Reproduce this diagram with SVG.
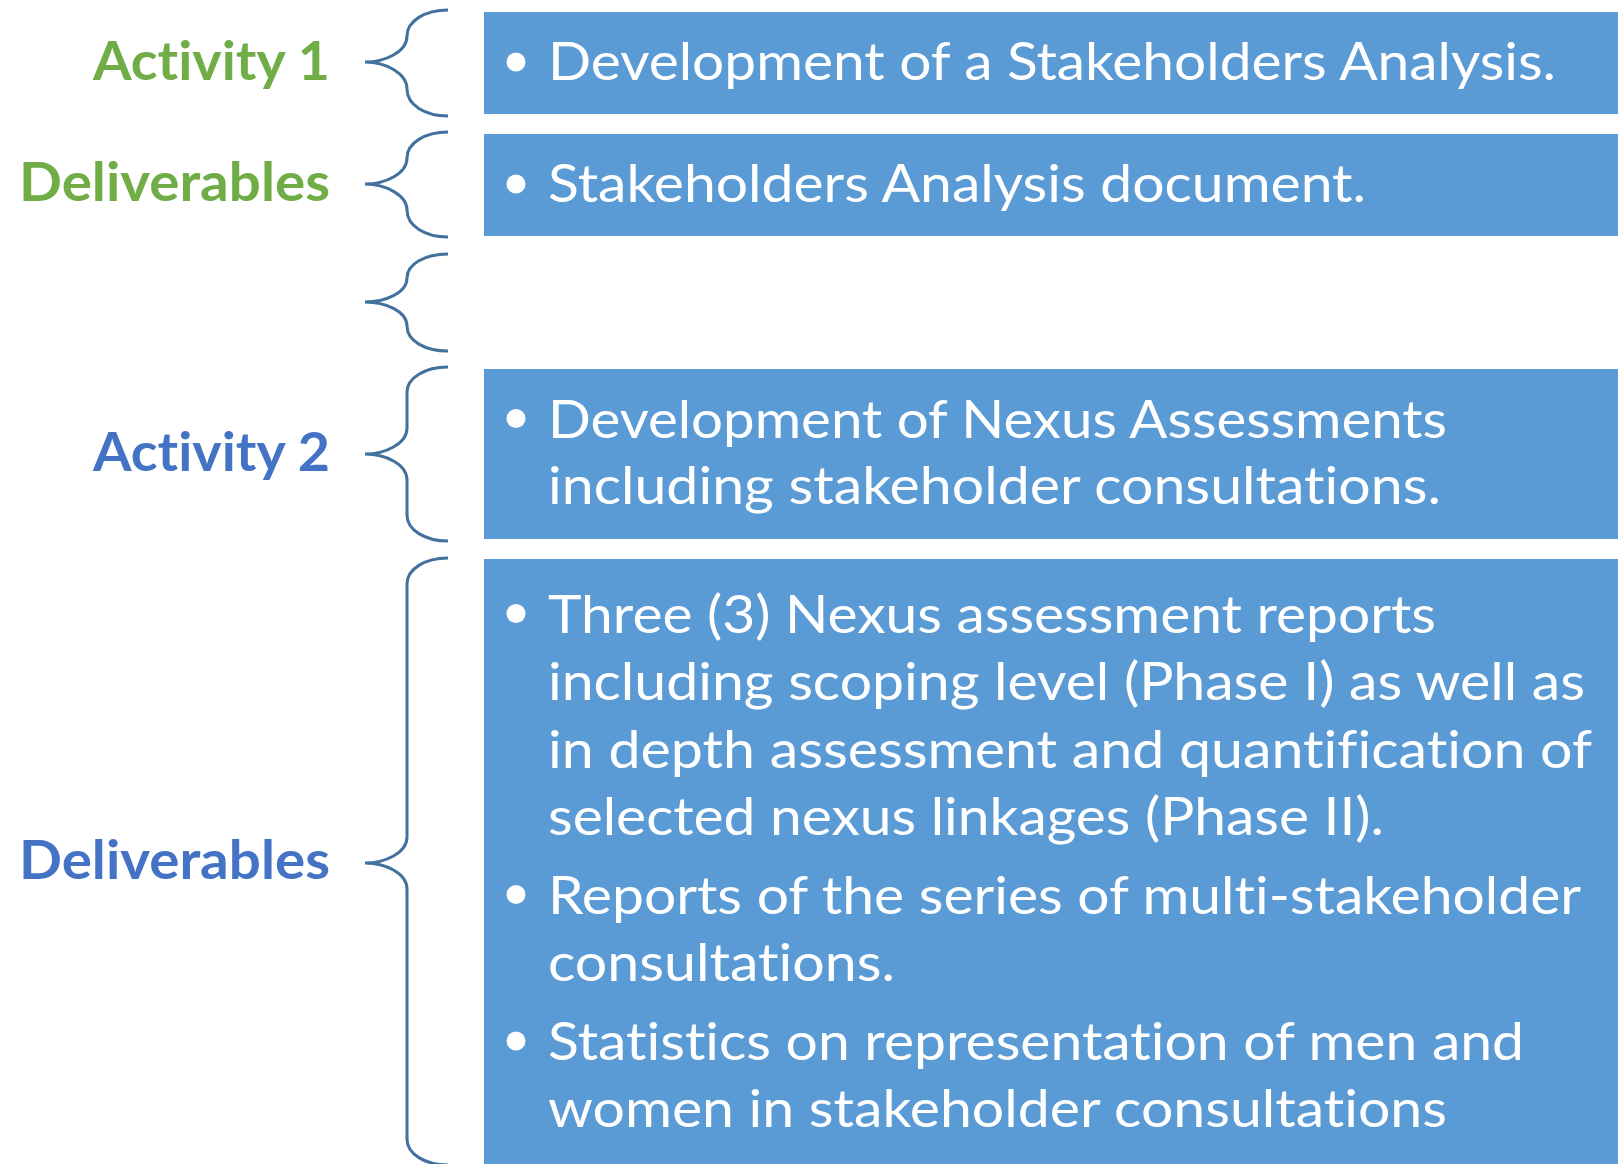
<svg xmlns="http://www.w3.org/2000/svg" width="1618" height="1164" viewBox="0 0 1618 1164">
<style>
.box{fill:#5B9BD5}
.bt{font-family:Lato,"Open Sans","Liberation Sans",sans-serif;font-size:53px;fill:#FFFFFF;font-variant-ligatures:none;font-feature-settings:"liga" 0,"clig" 0}
.dot{fill:#FFFFFF}
.lbl{font-family:Lato,"Open Sans","Liberation Sans",sans-serif;font-size:54px;font-weight:bold;text-anchor:end;font-variant-ligatures:none}
.g{fill:#70AD47}
.b{fill:#4472C4}
.brace{fill:none;stroke:#41719C;stroke-width:3}
</style>
<rect width="1618" height="1164" fill="#FFFFFF"/>
<g id="connectors">
<path id="brace1" class="brace" d="M448,10 C425,10 407,21 407,36 C407,52 385,62 365,62 C385,62 407,73 407,89 C407,105 425,116 448,116"/>
<path id="brace2" class="brace" d="M448,132 C425,132 407,143 407,158 C407,174 385,184 365,184 C385,184 407,195 407,210 C407,226 425,237 448,237"/>
<path id="brace3" class="brace" d="M448,254 C425,254 407,264 407,278 C407,293 385,302 365,302 C385,302 407,311 407,326 C407,341 425,351 448,351"/>
<path id="brace4" class="brace" d="M448,367 C425,367 407,378 407,392 L407,428 C407,444 385,454 365,454 C385,454 407,464 407,480 L407,515 C407,530 425,541 448,541"/>
<path id="brace5" class="brace" d="M448,558 C425,558 407,569 407,584 L407,837 C407,853 385,863 365,863 C385,863 407,873 407,889 L407,1139 C407,1154 425,1165 448,1165"/>
</g>
<g id="label-activity1"><text class="lbl g" x="330" y="80" textLength="237" lengthAdjust="spacingAndGlyphs">Activity 1</text></g>
<g id="label-deliverables1"><text class="lbl g" x="330" y="201" textLength="311" lengthAdjust="spacingAndGlyphs">Deliverables</text></g>
<g id="label-activity2"><text class="lbl b" x="330" y="471" textLength="237" lengthAdjust="spacingAndGlyphs">Activity 2</text></g>
<g id="label-deliverables2"><text class="lbl b" x="330" y="879" textLength="311" lengthAdjust="spacingAndGlyphs">Deliverables</text></g>
<g id="box1">
<rect class="box" x="484" y="12" width="1134" height="102"/>
<circle class="dot" cx="516" cy="62" r="9.5"/>
<text class="bt" x="548" y="80" textLength="1008" lengthAdjust="spacingAndGlyphs">Development of a Stakeholders Analysis.</text>
</g>
<g id="box2">
<rect class="box" x="484" y="134" width="1134" height="102"/>
<circle class="dot" cx="516" cy="184" r="9.5"/>
<text class="bt" x="548" y="201.5" textLength="818" lengthAdjust="spacingAndGlyphs">Stakeholders Analysis document.</text>
</g>
<g id="box3">
<rect class="box" x="484" y="369" width="1134" height="170"/>
<circle class="dot" cx="516" cy="418.5" r="9.5"/>
<text class="bt" x="548" y="437.5" textLength="899" lengthAdjust="spacingAndGlyphs">Development of Nexus Assessments</text>
<text class="bt" x="548" y="504" textLength="893" lengthAdjust="spacingAndGlyphs">including stakeholder consultations.</text>
</g>
<g id="box4">
<rect class="box" x="484" y="559" width="1134" height="605"/>
<circle class="dot" cx="516" cy="613.5" r="9.5"/>
<text class="bt" x="548" y="632.5" textLength="888" lengthAdjust="spacingAndGlyphs">Three (3) Nexus assessment reports</text>
<text class="bt" x="548" y="700" textLength="1037" lengthAdjust="spacingAndGlyphs">including scoping level (Phase I) as well as</text>
<text class="bt" x="548" y="767.5" textLength="1044" lengthAdjust="spacingAndGlyphs">in depth assessment and quantification of</text>
<text class="bt" x="548" y="835" textLength="836" lengthAdjust="spacingAndGlyphs">selected nexus linkages (Phase II).</text>
<circle class="dot" cx="516" cy="894.5" r="9.5"/>
<text class="bt" x="548" y="913.5" textLength="1033" lengthAdjust="spacingAndGlyphs">Reports of the series of multi-stakeholder</text>
<text class="bt" x="548" y="981" textLength="347" lengthAdjust="spacingAndGlyphs">consultations.</text>
<circle class="dot" cx="516" cy="1041" r="9.5"/>
<text class="bt" x="548" y="1060" textLength="976" lengthAdjust="spacingAndGlyphs">Statistics on representation of men and</text>
<text class="bt" x="548" y="1127" textLength="899" lengthAdjust="spacingAndGlyphs">women in stakeholder consultations</text>
</g>
</svg>
